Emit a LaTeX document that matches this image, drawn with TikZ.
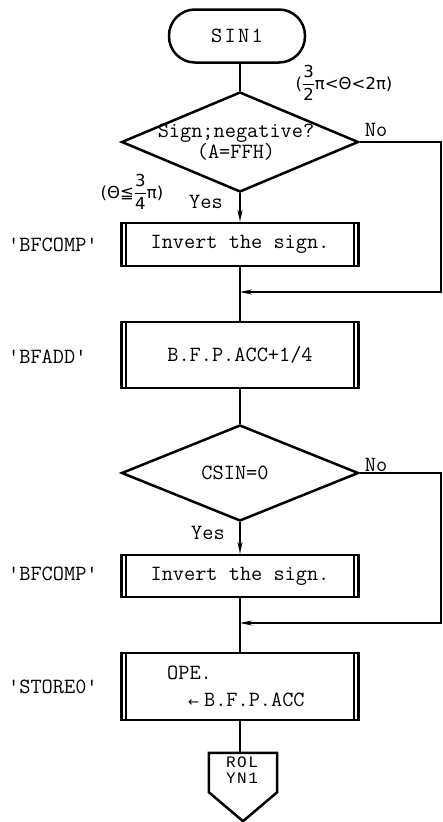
\documentclass[tikz,border=0pt]{standalone}
\usepackage{amsmath}
\usepackage{fontspec}
\newfontfamily\lblfont{DejaVu Sans}
\newfontfamily\conmono{Liberation Mono}
\usetikzlibrary{shapes.geometric,arrows.meta}

\newcommand\sq{\char39\relax}
\newcommand\fr[2]{\ensuremath{\genfrac{}{}{0.6pt}{0}{\mbox{#1}}{\mbox{#2}}}}
\newcommand\smallarrow{{\lblfont\fontsize{13}{13}\selectfont ←}}

\begin{document}
\begin{tikzpicture}[x=1pt,y=-1pt,
  every node/.style={font=\ttfamily\fontsize{21.7}{24}\selectfont},
  shp/.style={draw, line width=2.5pt},
  conn/.style={line width=1.4pt},
  arr/.style={conn, -{Stealth[length=12pt,width=5pt]}},
  procbox/.style={shp, rectangle, minimum width=237pt, inner sep=0pt},
  decbox/.style={shp, diamond, minimum width=237pt, inner sep=0pt},
  lbl/.style={font=\lblfont\fontsize{16.5}{18}\selectfont, inner sep=0pt},
  side/.style={anchor=west, inner sep=0pt},
  offtext/.style={inner sep=0pt, font=\conmono\fontsize{16}{16}\selectfont},
]
\useasboundingbox (0,0) rectangle (443,822);

% terminal
\node[shp, rectangle, rounded corners=26pt, minimum width=136pt,
      minimum height=53pt] (start) at (237,36)
      {S\kern2.3pt I\kern2.3pt N\kern2.3pt 1};

% first decision
\node[decbox, minimum height=100pt] (d1) at (240,142) {};
\node[align=center, inner sep=0pt, font=\ttfamily\fontsize{21.7}{21}\selectfont]
  (d1t) at (236,142) {Sign;negative?\\(A=FFH)};
\node[lbl] (c1) at (344,83) {(\fr32π<Θ<2π)};
\node[lbl] (c2) at (132,192) {(Θ≦\fr34π)};
\node[inner sep=0pt] (y1) at (206,202) {Yes};
\node[inner sep=0pt] (n1) at (376,130) {No};

% processes
\node[procbox, minimum height=43pt] (b1) at (240,244.5) {Invert the sign.};
\node[procbox, minimum height=66pt] (b2) at (240,355) {B.F.P.ACC+1/4};

% second decision
\node[decbox, minimum height=96pt] (d2) at (240,473) {};
\node[inner sep=0pt] (d2t) at (235,473) {CSIN=0};
\node[inner sep=0pt] (y2) at (208,533) {Yes};
\node[inner sep=0pt] (n2) at (376,465) {No};

\node[procbox, minimum height=42pt] (b3) at (240,576) {Invert the sign.};
\node[procbox, minimum height=67pt] (b4) at (240,686.5) {};
\node[anchor=west, align=left, inner sep=0pt, font=\ttfamily\fontsize{21.7}{27}\selectfont]
      (b4t) at (167,686.5) {OPE.\\\hspace{21pt}\smallarrow\hspace{5pt}B.F.P.ACC};

% predefined-process side bars
\foreach \b in {b1,b2,b3,b4} {
  \draw[line width=1.6pt] ([xshift=6pt]\b.north west) -- ([xshift=6pt]\b.south west);
  \draw[line width=1.6pt] ([xshift=-6pt]\b.north east) -- ([xshift=-6pt]\b.south east);
}

% routine names
\node[side] (s1) at (8,244.5) {\sq BFCOMP\sq};
\node[side] (s2) at (8,357) {\sq BFADD\sq};
\node[side] (s3) at (8,574) {\sq BFCOMP\sq};
\node[side] (s4) at (8,687) {\sq STORE0\sq};

% off-page connector
\node[minimum width=68pt, minimum height=39pt, inner sep=0pt] (off) at (243,772.5) {};
\draw[shp] (off.north west) -- (off.north east) -- (off.south east)
  -- ([yshift=-29pt]off.south) -- (off.south west) -- cycle;
\node[offtext] (offa) at (242,762) {R\kern1.5pt O\kern1.5pt L};
\node[offtext] (offb) at (242,778) {Y\kern1.5pt N\kern1.5pt 1};

% flow lines
\coordinate (m1) at (240,292);
\coordinate (r1) at (441,292);
\coordinate (m2) at (240,623);
\coordinate (r2) at (441,623);

\draw[conn] (start.south -| d1.north) -- (d1.north);
\draw[arr] (d1) -- (b1);
\draw[conn] (b1) -- (b2);
\draw[conn] (b2) -- (d2);
\draw[arr] (d2) -- (b3);
\draw[conn] (b3) -- (b4);
\draw[conn] (b4.south) -- (off.north -| b4.south);
\draw[arr] (d1.east) -| (r1) -- (m1);
\draw[arr] (d2.east) -| (r2) -- (m2);
\end{tikzpicture}
\end{document}
